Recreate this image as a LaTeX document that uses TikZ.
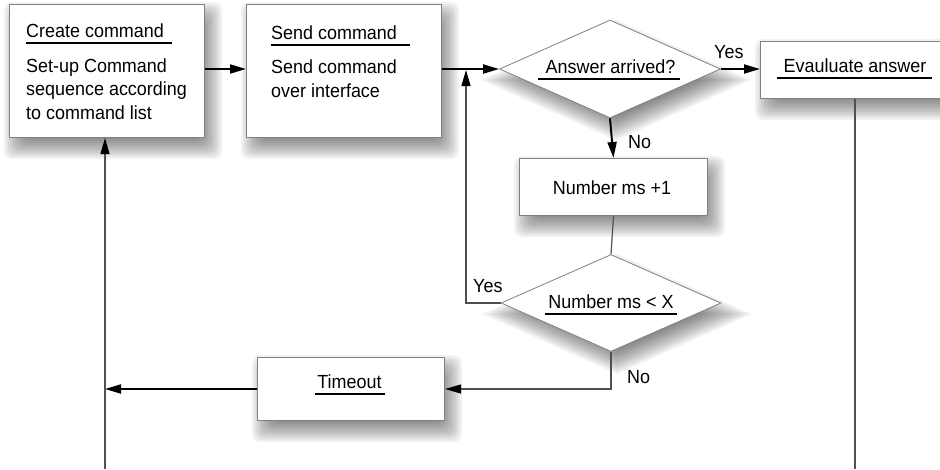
\documentclass[tikz,border=0pt]{standalone}
\usepackage{fontspec}
\setmainfont{Liberation Sans}[FakeStretch=0.945]
\usetikzlibrary{shapes.geometric,arrows.meta,calc}
\definecolor{boxgray}{HTML}{808080}
\definecolor{linegray}{HTML}{505050}
\pgfdeclarelayer{background}
\pgfsetlayers{background,main}
\newcommand{\myboxshadow}[1]{%
  \foreach \k in {1,...,12}{%
    \fill[black, opacity=0.05, rounded corners=8pt]
      ($(#1.north west)+(-7+2*\k,-4+2*\k)$) rectangle ($(#1.south east)+(19-2*\k,23-2*\k)$);
  }}
\newcommand{\mydiashadow}[1]{%
  \foreach \k [evaluate=\k as \e using 12-2*\k] in {1,...,12}{%
    \fill[black, opacity=0.05]
      ($(#1.north)+(6,11-1.1*\e)$) -- ($(#1.east)+(6+2.4*\e,11)$) --
      ($(#1.south)+(6,11+1.1*\e)$) -- ($(#1.west)+(6-2.4*\e,11)$) -- cycle;
  }}
\begin{document}
\begin{tikzpicture}[x=1pt,y=-1pt,
  font=\fontsize{19}{23.5}\selectfont,
  box/.style={draw=boxgray, line width=1pt, fill=white, inner sep=0pt, anchor=north west},
  dia/.style={diamond, draw=boxgray, line width=0.8pt, fill=white, inner sep=0pt},
  txt/.style={anchor=base west, inner sep=0pt},
  body/.style={anchor=base west, inner sep=0pt, align=left},
  uline/.style={line width=2.8pt, black},
  arr/.style={line width=2pt, black, -{Triangle[length=16pt,width=9pt]}},
  thin/.style={line width=1.2pt, linegray},
  thinarr/.style={line width=1.2pt, linegray, -{Triangle[length=16pt,width=9pt,color=black]}}
]
\useasboundingbox (0,0) rectangle (940,469);

% boxes
\node[box, minimum width=195pt, minimum height=133pt] (create) at (9,4) {};
\node[box, minimum width=195pt, minimum height=133pt] (send) at (246,4) {};
\node[box, minimum width=200pt, minimum height=57pt] (eval) at (760,41) {};
\node[box, minimum width=188pt, minimum height=57pt] (num) at (519,158) {};
\node[box, minimum width=187pt, minimum height=63pt] (tout) at (257,357) {};
\node[dia, minimum width=221pt, minimum height=98pt] (d1) at (610,69) {};
\node[dia, minimum width=220pt, minimum height=97pt] (d2) at (611,303) {};

\begin{pgfonlayer}{background}
  \myboxshadow{create}
  \myboxshadow{send}
  \myboxshadow{eval}
  \myboxshadow{num}
  \myboxshadow{tout}
  \mydiashadow{d1}
  \mydiashadow{d2}
\end{pgfonlayer}

% texts
\node[txt] (t1) at (26,37) {Create command};
\draw[uline] ($(t1.base west)+(0,6)$) -- ($(t1.base east)+(8,6)$);
\node[body] (b1) at (26,119) {Set-up Command\\sequence according\\to command list};

\node[txt] (t2) at (271,39) {Send command};
\draw[uline] ($(t2.base west)+(0,6)$) -- ($(t2.base east)+(13,6)$);
\node[body] (b2) at (271,97) {Send command\\over interface};

\node[txt, anchor=base] (t3) at (610.5,73) {Answer arrived?};
\draw[uline] ($(t3.base west)+(-7,6)$) -- ($(t3.base east)+(4,6)$);

\node[txt, anchor=base] (t4) at (855,72) {Evauluate answer};
\draw[uline] ($(t4.base west)+(-6,6)$) -- ($(t4.base east)+(5,6)$);

\node[txt, anchor=base] (t5) at (612,194) {Number ms +1};

\node[txt, anchor=base] (t6) at (611,308) {Number ms < X};
\draw[uline] ($(t6.base west)+(-3,6)$) -- ($(t6.base east)+(3,6)$);

\node[txt, anchor=base] (t7) at (349.5,388) {Timeout};
\draw[uline] ($(t7.base west)+(-2,6)$) -- ($(t7.base east)+(3,6)$);

% labels
\node[txt] (y1) at (714,58) {Yes};
\node[txt] (n1) at (628,148) {No};
\node[txt] (y2) at (473,292) {Yes};
\node[txt] (n2) at (627,383) {No};

% connectors
\coordinate (yc) at (466,303);
\coordinate (lv) at (105,469);
\coordinate (ev) at (855,469);

\draw[arr] (create.east |- d1.west) -- (send.west |- d1.west);
\draw[arr] (send.east |- d1.west) -- (d1.west);
\draw[arr] (d1.east) -- (d1.east -| eval.west);
\draw[arr] (d1.south) -- (num.north);
\draw[thin] (num.south) -- (d2.north);
\draw[thinarr] (d2.west) -- (yc) -- ($(yc |- d1.west)+(0,1)$);
\draw[thinarr] (d2.south) -- (d2.south |- tout.east) -- (tout.east);
\draw[arr] (tout.west) -- (lv |- tout.west);
\draw[thinarr] (lv) -- (lv |- create.south);
\draw[thin] (ev |- eval.south) -- (ev);
\end{tikzpicture}
\end{document}
